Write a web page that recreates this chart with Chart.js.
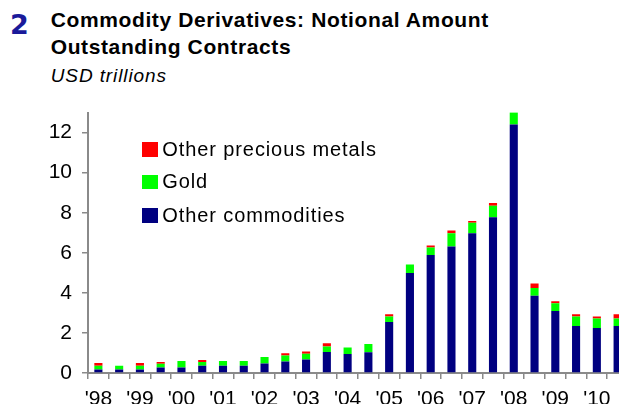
<!DOCTYPE html>
<html>
<head>
<meta charset="utf-8">
<script src="https://cdn.jsdelivr.net/npm/chart.js@4/dist/chart.umd.min.js"></script>
<style>
  html, body { margin:0; padding:0; width:619px; height:404px; overflow:hidden; background:#fff; }
  body { position:relative; font-family:"Liberation Sans", Arial, Helvetica, sans-serif; color:#000; }
  .t { position:absolute; white-space:nowrap; line-height:1; }
  #num { left:10px; top:10.5px; font-family:"DejaVu Sans", sans-serif; font-size:27px; font-weight:bold; color:#1a1a9a; }
  #title1 { left:50.7px; top:8.9px; font-size:21px; font-weight:bold; letter-spacing:0.62px; }
  #title2 { left:50.7px; top:35.5px; font-size:21px; font-weight:bold; letter-spacing:0.62px; }
  #sub { left:50.7px; top:65.6px; font-size:19px; font-style:italic; letter-spacing:0.9px; }
  #chartWrap { position:absolute; left:0; top:90px; }
  .lg-box { position:absolute; width:15.4px; height:14.4px; }
  .lg-txt { position:absolute; font-size:20px; letter-spacing:0.9px; line-height:1; white-space:nowrap; }
</style>
</head>
<body>
<div class="t" id="num">2</div>
<div class="t" id="title1">Commodity Derivatives: Notional Amount</div>
<div class="t" id="title2">Outstanding Contracts</div>
<div class="t" id="sub">USD trillions</div>
<div id="chartWrap"><canvas id="c" width="628" height="323"></canvas></div>
<div id="legend"></div>
<script>
// Half-year observations, June 1998 .. December 2010
const categories = ["Jun-98","Dec-98","Jun-99","Dec-99","Jun-00","Dec-00","Jun-01","Dec-01",
  "Jun-02","Dec-02","Jun-03","Dec-03","Jun-04","Dec-04","Jun-05","Dec-05","Jun-06","Dec-06",
  "Jun-07","Dec-07","Jun-08","Dec-08","Jun-09","Dec-09","Jun-10","Dec-10"];
const tickLabels = ["'98","'99","'00","'01","'02","'03","'04","'05","'06","'07","'08","'09","'10"];
const yTicks = [0,2,4,6,8,10,12];

const otherCommodities = [0.18,0.18,0.18,0.27,0.27,0.36,0.36,0.36,0.47,0.58,0.68,1.05,0.95,
  1.04,2.55,4.99,5.89,6.32,6.98,7.78,12.41,3.86,3.10,2.35,2.25,2.35];
const gold = [0.18,0.18,0.18,0.19,0.33,0.19,0.24,0.24,0.33,0.29,0.28,0.27,0.32,
  0.41,0.27,0.43,0.38,0.66,0.52,0.57,0.61,0.38,0.38,0.47,0.47,0.37];
const otherPreciousMetals = [0.14,0,0.14,0.09,0,0.10,0,0,0,0.11,0.11,0.16,0,
  0,0.11,0,0.09,0.14,0.09,0.14,0,0.23,0.10,0.11,0.10,0.21];

const seriesNames = ["Other commodities","Gold","Other precious metals"];
const seriesColors = ["#000080","#00ff00","#ff0000"];

const axisColor = "#8a8a8a";
const tickFont = { family: "'Liberation Sans', Arial, Helvetica, sans-serif", size: 21 };

const chart = new Chart(document.getElementById("c"), {
  type: "bar",
  data: {
    labels: categories,
    datasets: [otherCommodities, gold, otherPreciousMetals].map((d, i) => ({
      label: seriesNames[i],
      data: d,
      backgroundColor: seriesColors[i],
      borderWidth: 0,
      barPercentage: 0.39,
      categoryPercentage: 1.0
    }))
  },
  options: {
    responsive: false,
    animation: false,
    devicePixelRatio: 1,
    layout: { padding: { top: 7, right: 0, bottom: 0, left: 0 } },
    plugins: { legend: { display: false }, tooltip: { enabled: false }, title: { display: false } },
    scales: {
      x: {
        stacked: true,
        offset: true,
        afterFit: s => { s.height = 40; },
        border: { display: true, color: axisColor, width: 2 },
        grid: { display: true, offset: true, drawOnChartArea: false, drawTicks: true, tickLength: 6, color: axisColor, lineWidth: 1.5 },
        ticks: {
          autoSkip: false, maxRotation: 0, minRotation: 0, padding: 8,
          color: "#000", font: tickFont,
          callback: (v, i) => (i % 2 === 0 ? tickLabels[i / 2] : "")
        }
      },
      y: {
        stacked: true,
        min: 0, max: 13,
        afterFit: s => { s.width = 88; },
        afterBuildTicks: s => { s.ticks = yTicks.map(v => ({ value: v })); },
        border: { display: true, color: axisColor, width: 2 },
        grid: { display: true, drawOnChartArea: false, drawTicks: true, tickLength: 6, color: axisColor, lineWidth: 1.5 },
        ticks: { padding: 10, color: "#000", font: tickFont }
      }
    }
  }
});

// Legend (reverse of stack order), placed inside the plot area
const lg = document.getElementById("legend");
const rowBaselines = [155.7, 188.3, 221.7];
chart.data.datasets.slice().reverse().forEach((ds, k) => {
  const box = document.createElement("div");
  box.className = "lg-box";
  box.style.left = "142.3px";
  box.style.top = (rowBaselines[k] - 13.4) + "px";
  box.style.background = ds.backgroundColor;
  lg.appendChild(box);
  const txt = document.createElement("div");
  txt.className = "lg-txt";
  txt.style.left = "162.3px";
  txt.style.top = (rowBaselines[k] - 16.9) + "px";
  txt.textContent = ds.label;
  lg.appendChild(txt);
});
</script>
</body>
</html>
